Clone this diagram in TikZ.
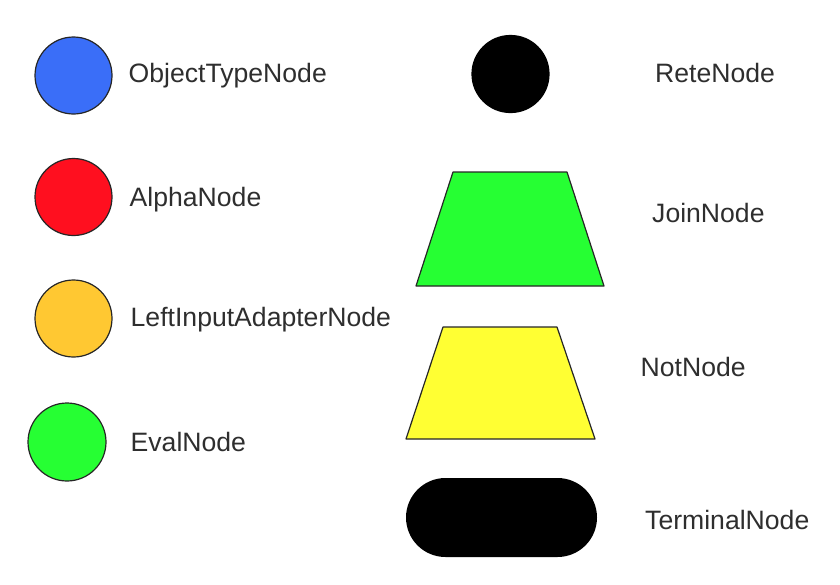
\documentclass[tikz,border=0pt]{standalone}
\usepackage{fontspec}
\setmainfont{Liberation Sans}
\usetikzlibrary{shapes.geometric,shapes.misc}
\definecolor{otnblue}{HTML}{3A6EF8}
\definecolor{alphared}{HTML}{FF0F1F}
\definecolor{liaorange}{HTML}{FFC832}
\definecolor{nodegreen}{HTML}{26FF33}
\definecolor{notyellow}{HTML}{FFFF33}
\begin{document}
\begin{tikzpicture}[x=1pt,y=-1pt,line join=round]
  \tikzset{
    round node/.style={circle,draw=black!85,line width=1.2pt,minimum size=77pt,inner sep=0pt},
    beta shape/.style={draw=black!85,line width=1.2pt},
    legend text/.style={anchor=base west,inner sep=0pt,text=black!82,
      font=\fontsize{26.6}{30}\selectfont}
  }
  \useasboundingbox (0,0) rectangle (840,584);
  % left column
  \node[round node,fill=otnblue] (otn) at (73.5,75.5) {};
  \node[round node,fill=alphared] (alpha) at (73.5,197) {};
  \node[round node,fill=liaorange] (lia) at (73.5,318.5) {};
  \node[round node,fill=nodegreen,minimum size=78pt] (eval) at (67,442) {};
  \node[legend text] (otnlbl) at (128.5,82) {ObjectTypeNode};
  \node[legend text] (alphalbl) at (129.5,206) {AlphaNode};
  \node[legend text] (lialbl) at (130.5,326) {LeftInputAdapterNode};
  \node[legend text] (evallbl) at (130.5,451) {EvalNode};
  % right column
  \node[round node,fill=black,draw=black] (rete) at (510.5,74) {};
  \draw[beta shape,fill=nodegreen] (453,172) -- (567,172) -- (604,286) -- (416,286) -- cycle;
  \draw[beta shape,fill=notyellow] (443,327) -- (557,327) -- (595,439) -- (406,439) -- cycle;
  \node[rounded rectangle,fill=black,minimum width=191pt,minimum height=79pt,inner sep=0pt] (terminal) at (501.5,517.5) {};
  \node[legend text] (retelbl) at (655,82) {ReteNode};
  \node[legend text] (joinlbl) at (652,222) {JoinNode};
  \node[legend text] (notlbl) at (640.5,376) {NotNode};
  \node[legend text] (terminallbl) at (645,529) {TerminalNode};
\end{tikzpicture}
\end{document}
